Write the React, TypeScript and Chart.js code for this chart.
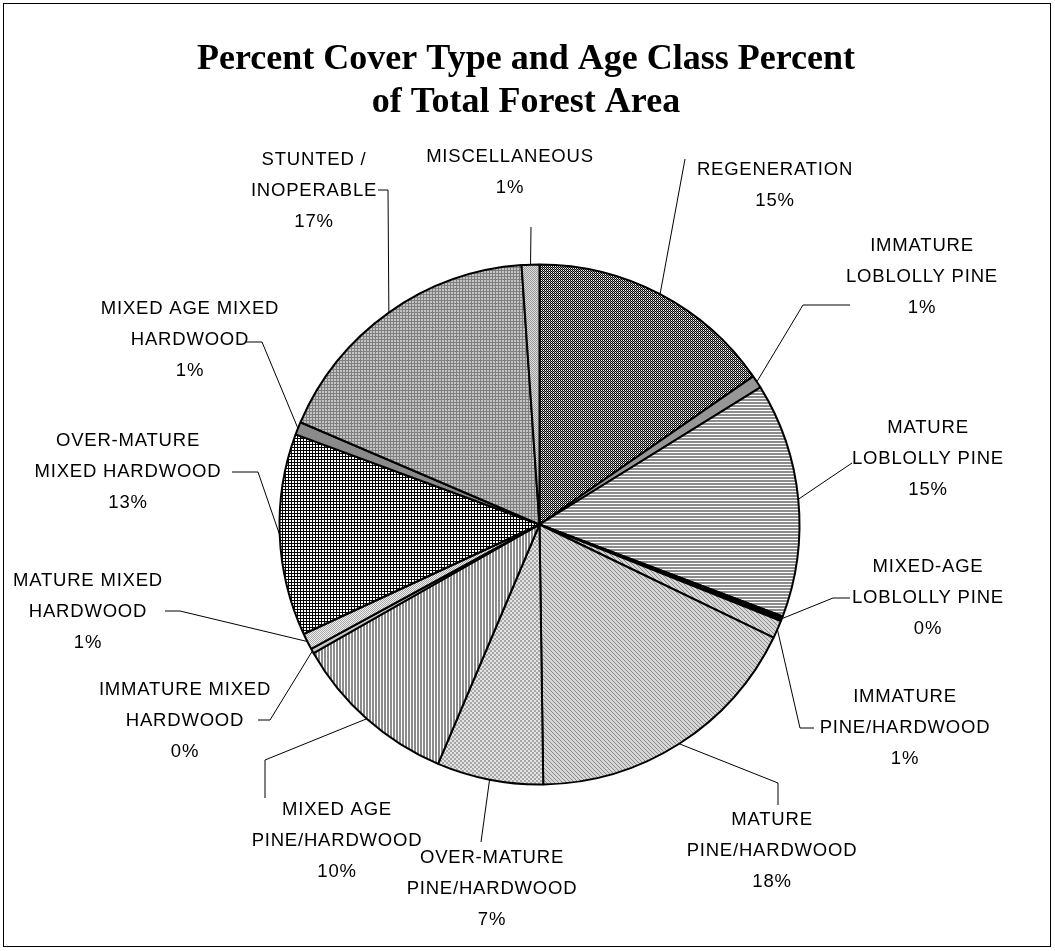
import React, { useEffect, useRef } from "react";
import { Chart, registerables } from "chart.js";
Chart.register(...registerables);

const categories = [
  "REGENERATION",
  "IMMATURE LOBLOLLY PINE",
  "MATURE LOBLOLLY PINE",
  "MIXED-AGE LOBLOLLY PINE",
  "IMMATURE PINE/HARDWOOD",
  "MATURE PINE/HARDWOOD",
  "OVER-MATURE PINE/HARDWOOD",
  "MIXED AGE PINE/HARDWOOD",
  "IMMATURE MIXED HARDWOOD",
  "MATURE MIXED HARDWOOD",
  "OVER-MATURE MIXED HARDWOOD",
  "MIXED AGE MIXED HARDWOOD",
  "STUNTED / INOPERABLE",
  "MISCELLANEOUS",
];

const values = [15.35, 0.81, 14.59, 0.3, 1.12, 17.6, 6.61, 10.38, 0.3, 1.02, 12.55, 0.8, 17.47, 1.1];

const labelLines = [
  ["REGENERATION"],
  ["IMMATURE", "LOBLOLLY PINE"],
  ["MATURE", "LOBLOLLY PINE"],
  ["MIXED-AGE", "LOBLOLLY PINE"],
  ["IMMATURE", "PINE/HARDWOOD"],
  ["MATURE", "PINE/HARDWOOD"],
  ["OVER-MATURE", "PINE/HARDWOOD"],
  ["MIXED AGE", "PINE/HARDWOOD"],
  ["IMMATURE MIXED", "HARDWOOD"],
  ["MATURE MIXED", "HARDWOOD"],
  ["OVER-MATURE", "MIXED HARDWOOD"],
  ["MIXED AGE MIXED", "HARDWOOD"],
  ["STUNTED /", "INOPERABLE"],
  ["MISCELLANEOUS"],
];

const titleLines = ["Percent Cover Type and Age Class Percent", "of Total Forest Area"];

// label layout: centre x, first line y, leader points (from near the pie outward to the label)
const labelLayout = [
  { cx: 775, y: 170, pts: [[685, 159]] },
  { cx: 922, y: 246, pts: [[803, 305], [850, 305]] },
  { cx: 928, y: 428, pts: [[852, 463]] },
  { cx: 928, y: 567, pts: [[833, 598], [850, 598]] },
  { cx: 905, y: 697, pts: [[800, 728], [814, 728]] },
  { cx: 772, y: 820, pts: [[778, 783], [778, 805]] },
  { cx: 492, y: 858, pts: [[481, 842]] },
  { cx: 337, y: 810, pts: [[265, 760], [265, 798]] },
  { cx: 185, y: 690, pts: [[270, 720], [258, 720]] },
  { cx: 88, y: 581, pts: [[180, 611], [165, 611]] },
  { cx: 128, y: 441, pts: [[258, 472], [232, 472]] },
  { cx: 190, y: 309, pts: [[262, 342], [246, 342]] },
  { cx: 314, y: 160, pts: [[388, 190], [378, 190]] },
  { cx: 510, y: 157, pts: [[531, 227]] },
];

type Tile = { rows: string[]; colors: Record<string, string> };

const tiles: Tile[] = [
  { rows: ["KW", "GK"], colors: { K: "#000000", W: "#ffffff", G: "#909090" } },
  { rows: ["G"], colors: { G: "#969696" } },
  { rows: ["G", "G", "W"], colors: { G: "#8c8c8c", W: "#ffffff" } },
  { rows: ["K"], colors: { K: "#000000" } },
  { rows: ["DLLL", "LDLL", "LLDL", "LLLD"], colors: { D: "#8c8c8c", L: "#d6d6d6" } },
  { rows: ["DLLL", "LDLL", "LLDL", "LLLD"], colors: { D: "#8c8c8c", L: "#d6d6d6" } },
  { rows: ["GGWW", "GGWW", "WWGG", "WWGG"], colors: { G: "#a6a6a6", W: "#e4e4e4" } },
  { rows: ["GGW"], colors: { G: "#8c8c8c", W: "#ffffff" } },
  { rows: ["G"], colors: { G: "#c8c8c8" } },
  { rows: ["GL", "LG"], colors: { G: "#a8a8a8", L: "#efefef" } },
  { rows: ["KKK", "KWW", "KWW"], colors: { K: "#000000", W: "#ffffff" } },
  { rows: ["G"], colors: { G: "#8a8a8a" } },
  { rows: ["GGG", "GLL", "GLL"], colors: { G: "#808080", L: "#c4c4c4" } },
  { rows: ["GL", "LG"], colors: { G: "#999999", L: "#dddddd" } },
];

function makePattern(t: Tile): CanvasPattern | string {
  const h = t.rows.length;
  const w = t.rows[0].length;
  const c = document.createElement("canvas");
  c.width = w;
  c.height = h;
  const ctx = c.getContext("2d")!;
  for (let y = 0; y < h; y++) {
    for (let x = 0; x < w; x++) {
      ctx.fillStyle = t.colors[t.rows[y][x]];
      ctx.fillRect(x, y, 1, 1);
    }
  }
  const p = ctx.createPattern(c, "repeat");
  return p || t.colors[t.rows[0][0]];
}

const W = 1055;
const H = 951;

export default function App() {
  const ref = useRef<HTMLCanvasElement | null>(null);

  useEffect(() => {
    const canvas = ref.current;
    if (!canvas) return;
    const total = values.reduce((a, b) => a + b, 0);

    const decor = {
      id: "decor",
      beforeDraw(chart: any) {
        const ctx = chart.ctx;
        ctx.save();
        ctx.fillStyle = "#ffffff";
        ctx.fillRect(0, 0, W, H);
        ctx.strokeStyle = "#000000";
        ctx.lineWidth = 1;
        ctx.strokeRect(3.5, 3.5, 1047, 943);
        ctx.fillStyle = "#000000";
        ctx.textAlign = "center";
        ctx.textBaseline = "middle";
        ctx.font = 'bold 36px "Liberation Serif", "Times New Roman", serif';
        ctx.fillText(titleLines[0], 526, 60);
        ctx.fillText(titleLines[1], 526, 103);
        ctx.restore();
      },
      afterDraw(chart: any) {
        const ctx = chart.ctx;
        const meta = chart.getDatasetMeta(0);
        ctx.save();
        ctx.strokeStyle = "#000000";
        ctx.lineWidth = 1;
        meta.data.forEach((arc: any, i: number) => {
          const p = arc.getProps(["x", "y", "startAngle", "endAngle", "outerRadius"], true);
          const mid = (p.startAngle + p.endAngle) / 2;
          const ex = p.x + Math.cos(mid) * p.outerRadius;
          const ey = p.y + Math.sin(mid) * p.outerRadius;
          const lay = labelLayout[i];
          ctx.beginPath();
          ctx.moveTo(ex, ey);
          lay.pts.forEach((pt) => ctx.lineTo(pt[0], pt[1]));
          ctx.stroke();
          const pct = Math.round((values[i] / total) * 100) + "%";
          const lines = [...labelLines[i], pct];
          ctx.fillStyle = "#000000";
          ctx.textAlign = "center";
          ctx.textBaseline = "middle";
          ctx.font = '18.5px "Liberation Sans", Arial, sans-serif';
          try {
            (ctx as any).letterSpacing = "0.8px";
          } catch (e) {}
          lines.forEach((ln, k) => {
            ctx.fillText(ln, lay.cx, lay.y + k * 30.8);
          });
        });
        ctx.restore();
      },
    };

    const chart = new Chart(canvas, {
      type: "pie",
      data: {
        labels: categories,
        datasets: [
          {
            data: values,
            backgroundColor: tiles.map(makePattern) as any,
            borderColor: "#000000",
            borderWidth: 2,
          },
        ],
      },
      options: {
        responsive: false,
        animation: false,
        events: [],
        layout: { padding: { left: 278.5, right: 254.5, top: 263.5, bottom: 165.5 } },
        plugins: {
          legend: { display: false },
          tooltip: { enabled: false },
          title: { display: false },
        },
      },
      plugins: [decor],
    });
    return () => chart.destroy();
  }, []);

  return (
    <div style={{ position: "absolute", left: 0, top: 0, width: W, height: H, background: "#fff" }}>
      <canvas ref={ref} width={W} height={H} style={{ width: W, height: H, display: "block" }} />
    </div>
  );
}
